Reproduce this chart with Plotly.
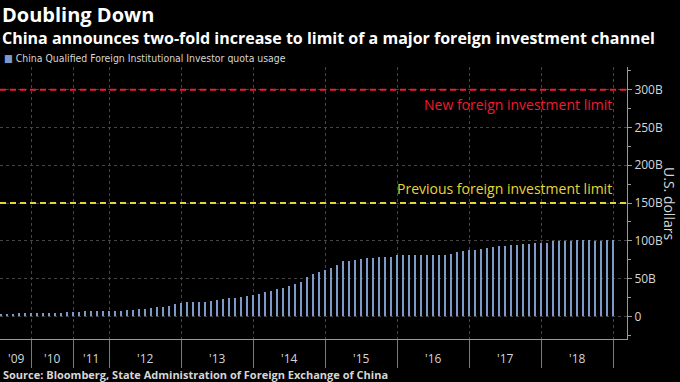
import plotly.graph_objects as go

# ---- data ----
quota_usage = [
    3.0, 3.0, 3.2, 3.8, 3.8, 4.0, 4.0, 4.4, 4.4, 4.8, 5.0, 5.1, 5.3, 6.4, 6.6, 6.6, 6.6, 6.6,
    6.6, 7.5, 7.5, 8.6, 9.0, 9.4, 9.6, 10.4, 11.7, 12.2, 13.3, 16.2,
    17.9, 18.6, 18.6, 19.2, 19.4, 20.6, 21.5, 22.8, 23.8, 24.0, 26.1, 27.4,
    27.6, 30.1, 32.3, 34.1, 35.8, 38.1, 39.8, 43.4, 46.0, 51.8, 55.8, 58.8,
    61.5, 63.7, 67.7, 72.6, 73.9, 74.3, 75.7, 77.0, 76.8, 78.9, 79.0, 79.0,
    81.0, 81.0, 80.8, 80.8, 81.4, 81.4, 81.5, 81.5, 81.6, 82.7, 84.5, 86.7,
    87.6, 87.6, 89.4, 90.3, 91.6, 92.5, 92.9, 93.8, 94.7, 95.1, 95.1, 96.9,
    97.3, 97.3, 99.1, 99.1, 99.1, 99.1, 100.4, 100.4, 100.4, 100.0, 100.0, 100.9,
    100.9,
]
year_labels = ["'09", "'10", "'11", "'12", "'13", "'14", "'15", "'16", "'17", "'18"]
bars_per_year = [5, 7, 6, 12, 12, 12, 12, 12, 12, 12]
new_limit = 300
previous_limit = 150
y_tick_values = [0, 50, 100, 150, 200, 250, 300]
y_tick_labels = ["0", "50B", "100B", "150B", "200B", "250B", "300B"]

# ---- derived positions ----
x_idx = list(range(len(quota_usage)))
boundaries = []
acc = 0
for n in bars_per_year:
    acc += n
    boundaries.append(acc)
starts = [0] + boundaries[:-1]
label_pos = [(s + e) / 2 for s, e in zip(starts, boundaries)]

BG = "#000000"
BAR = "#7c9ac8"
RED = "#ee1c2e"
YEL = "#e4d636"
GRID = "#454545"
AX = "#9a9a9a"
TXT = "#d6d6d6"
FONT = "'Open Sans', Roboto, sans-serif"

fig = go.Figure()
fig.add_trace(go.Bar(x=x_idx, y=quota_usage, width=0.45, marker=dict(color=BAR, line=dict(width=0)),
                     showlegend=False, name="China Qualified Foreign Institutional Investor quota usage"))

xmin, xmax = -0.17, 104.33
fig.add_trace(go.Scatter(x=[xmin, xmax], y=[new_limit, new_limit], mode="lines",
                         line=dict(color=RED, width=2, dash="6px,4px"), showlegend=False, hoverinfo="skip"))
fig.add_trace(go.Scatter(x=[xmin, xmax], y=[previous_limit, previous_limit], mode="lines",
                         line=dict(color=YEL, width=2, dash="6px,4px"), showlegend=False, hoverinfo="skip"))

W, H = 680, 382
ml, mr, mt, mb = 0, 53, 67, 43
pw, ph = W - ml - mr, H - mt - mb

def py(p):
    return (H - mb - p) / ph

def px(p):
    return (p - ml) / pw

ann = []
ann.append(dict(text="<b>Doubling Down</b>", x=px(1), y=py(0), xref="paper", yref="paper",
                xanchor="left", yanchor="top", borderpad=0, showarrow=False,
                font=dict(size=20, color="#ffffff", family=FONT)))
ann.append(dict(text="<b>China announces two-fold increase to limit of a major foreign investment channel</b>",
                x=px(1), y=py(37.5), xref="paper", yref="paper", xanchor="left", yanchor="middle",
                borderpad=0, showarrow=False, font=dict(size=16, color="#ffffff", family=FONT)))
ann.append(dict(text="<span style='color:%s'>■</span> China Qualified Foreign Institutional Investor quota usage" % BAR,
                x=px(3), y=py(57.5), xref="paper", yref="paper", xanchor="left", yanchor="middle",
                borderpad=0, showarrow=False,
                font=dict(size=10.4, color=TXT, family="'Liberation Sans Narrow', 'DejaVu Sans Condensed', sans-serif")))
ann.append(dict(text="<b>Source: Bloomberg, State Administration of Foreign Exchange of China</b>",
                x=px(2), y=py(374.5), xref="paper", yref="paper", xanchor="left", yanchor="middle",
                borderpad=0, showarrow=False, font=dict(size=11, color=TXT, family=FONT)))
ann.append(dict(text="U.S. dollars", x=px(670), y=0.5, xref="paper", yref="paper", xanchor="center",
                yanchor="middle", textangle=90, showarrow=False, font=dict(size=14, color=TXT, family=FONT)))
ann.append(dict(text="New foreign investment limit", x=px(614), y=new_limit, xref="paper", yref="y",
                xanchor="right", yanchor="top", yshift=-3, showarrow=False, font=dict(size=14, color=RED, family=FONT)))
ann.append(dict(text="Previous foreign investment limit", x=px(614), y=previous_limit, xref="paper", yref="y",
                xanchor="right", yanchor="bottom", yshift=3, showarrow=False, font=dict(size=14, color=YEL, family=FONT)))
for lab, pos in zip(year_labels, label_pos):
    ann.append(dict(text=lab, x=pos, y=0, xref="x", yref="paper", xanchor="center", yanchor="middle",
                    yshift=-19.5, borderpad=0, showarrow=False, font=dict(size=12, color=TXT, family=FONT)))

fig.update_layout(
    width=W, height=H, autosize=False,
    margin=dict(l=ml, r=mr, t=mt, b=mb, pad=0),
    paper_bgcolor=BG, plot_bgcolor=BG,
    annotations=ann, bargap=0, showlegend=False,
    xaxis=dict(range=[xmin, xmax], tickvals=boundaries, showticklabels=False, ticks="outside",
               ticklen=28, tickcolor="#7a7a7a", tickwidth=1, showgrid=True, gridcolor=GRID,
               griddash="dot", gridwidth=1, showline=True, linecolor=AX, linewidth=1, zeroline=False),
    yaxis=dict(side="right", range=[-30, 330], tickvals=y_tick_values, ticktext=y_tick_labels,
               ticks="outside", ticklen=4, tickcolor=AX, showline=True, linecolor=AX, linewidth=1,
               showgrid=True, gridcolor=GRID, griddash="dot", gridwidth=1, zeroline=False,
               tickfont=dict(size=12, color=TXT, family=FONT),
               minor=dict(tickvals=[-25, 25, 75, 125, 175, 225, 275, 325], ticks="outside", ticklen=3,
                          tickcolor=AX, showgrid=False)),
)

fig.write_html("out.html", config={"displayModeBar": False},
               post_script="document.body.style.margin='0';document.body.style.padding='0';")
